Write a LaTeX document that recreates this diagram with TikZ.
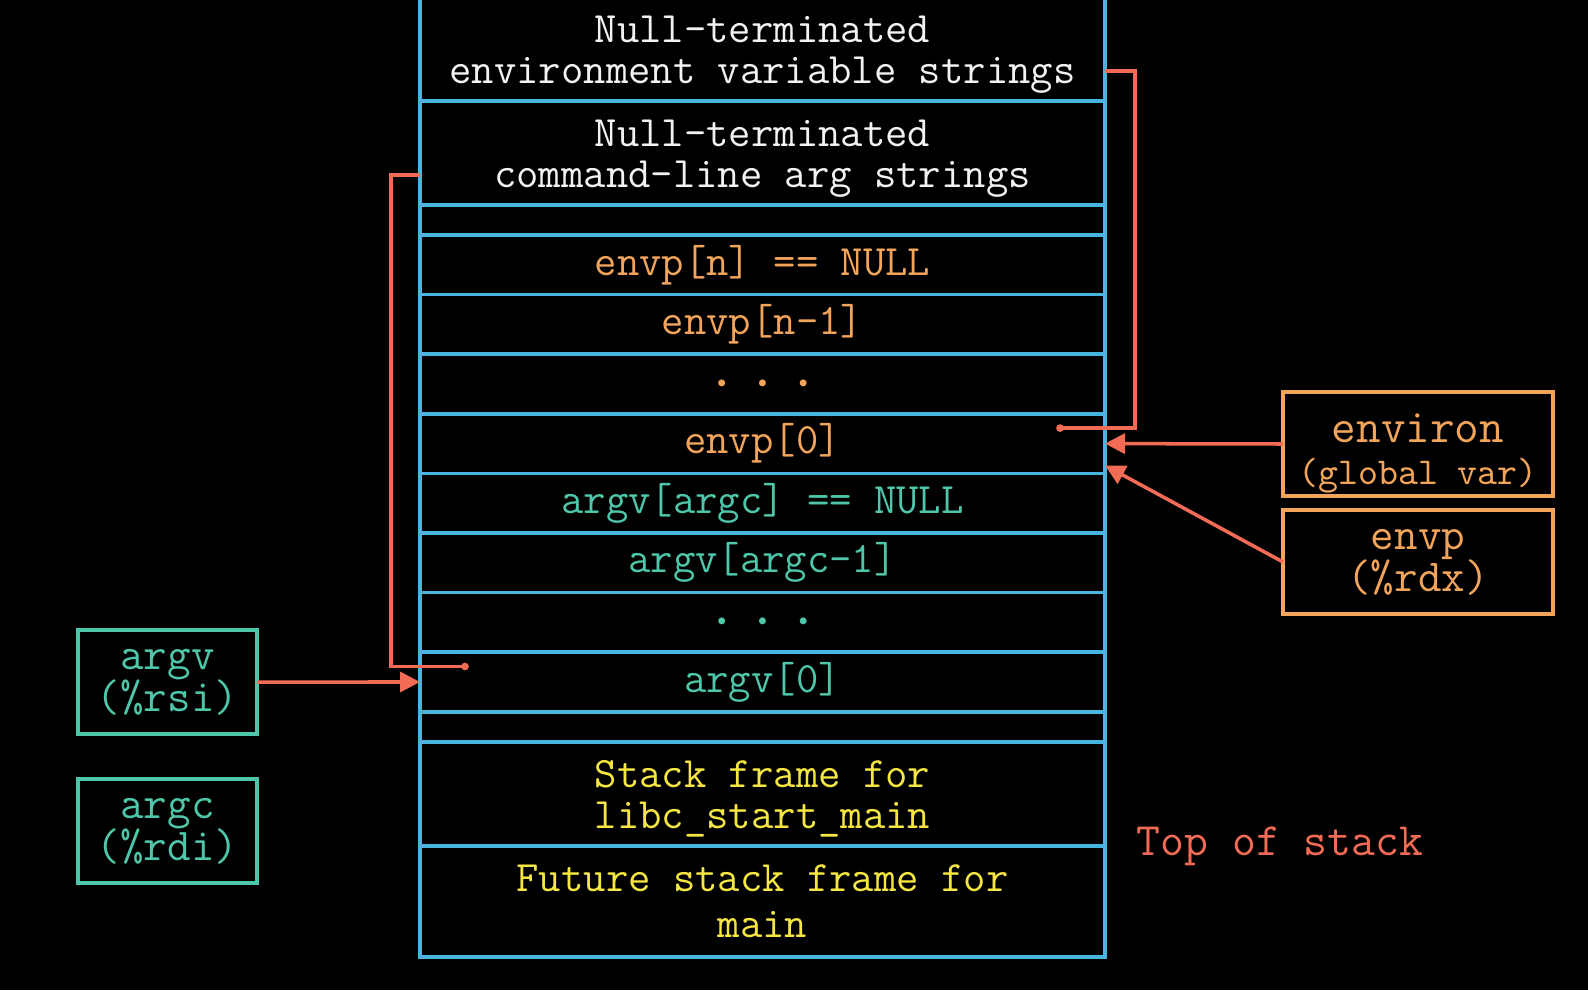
\documentclass[tikz,border=0pt]{standalone}
\usepackage{fontspec}
\usepackage{tikz}
\usetikzlibrary{positioning,arrows.meta}
\definecolor{stackblue}{HTML}{47B5DD}
\definecolor{envorange}{HTML}{F2A55A}
\definecolor{argteal}{HTML}{4EC6AA}
\definecolor{frameyellow}{HTML}{F5E642}
\definecolor{ptrred}{HTML}{F26B55}
\definecolor{txtwhite}{HTML}{F2F2F2}
\newcommand{\stackdots}{{\rmfamily\fontsize{6.6}{6.6}\selectfont\textbullet\hspace{5.8pt}\textbullet\hspace{5.8pt}\textbullet}}
\newcommand{\topstrut}{\rule{0pt}{10.6pt}}

\begin{document}
\begin{tikzpicture}[
  every node/.style={font=\ttfamily\fontsize{12.35}{11.6}\selectfont},
  cell/.style={draw=stackblue,line width=1pt,minimum width=6.85cm,minimum height=#1,
    inner sep=0pt,outer sep=0pt,align=center},
  cell/.default=0.596cm,
  regbox/.style={line width=0.9pt,minimum width=2.70cm,minimum height=1.04cm,inner sep=0pt,
    outer sep=0pt,align=center,font=\ttfamily\fontsize{13}{12}\selectfont},
  ptr/.style={draw=ptrred,line width=1pt},
  arr/.style={ptrred,line width=1pt,-{Triangle[length=2mm,width=2mm]}}]
  \useasboundingbox (0,0) rectangle (15.88,-9.90);
  \fill[black] (0,0) rectangle (15.88,-9.90);
  % the stack
  \node[cell=1.04cm,text=txtwhite] (envstr) at (7.625,-0.49) {\topstrut Null-terminated\\environment variable strings};
  \node[cell=1.04cm,text=txtwhite,below=0pt of envstr] (argstr) {\topstrut Null-terminated\\command-line arg strings};
  \node[cell=0.30cm,below=0pt of argstr] (gapa) {};
  \node[cell,text=envorange,below=0pt of gapa] (envnull) {envp[n] == NULL};
  \node[cell,text=envorange,below=0pt of envnull] (envlast) {envp[n-1]};
  \node[cell,text=envorange,below=0pt of envlast] (envdots) {\stackdots};
  \node[cell,text=envorange,below=0pt of envdots] (envzero) {envp[0]};
  \node[cell,text=argteal,below=0pt of envzero] (argnull) {argv[argc] == NULL};
  \node[cell,text=argteal,below=0pt of argnull] (arglast) {argv[argc-1]};
  \node[cell,text=argteal,below=0pt of arglast] (argdots) {\stackdots};
  \node[cell,text=argteal,below=0pt of argdots] (argzero) {argv[0]};
  \node[cell=0.30cm,below=0pt of argzero] (gapb) {};
  \node[cell=1.04cm,text=frameyellow,below=0pt of gapb] (libcframe) {\topstrut Stack frame for\\libc\_start\_main};
  \node[cell=1.11cm,text=frameyellow,below=0pt of libcframe] (mainframe) {Future stack frame for\\[1.4pt]main};
  % registers and globals
  \node[regbox,draw=envorange,text=envorange] (environ) at (14.18,-4.44) {\rule{0pt}{13.4pt}{\fontsize{13.6}{12}\selectfont environ}\\{\fontsize{10.8}{12}\selectfont (global var)}};
  \node[regbox,draw=envorange,text=envorange,below=0.14 of environ] (envreg) {envp\\(\%rdx)};
  \node[regbox,draw=argteal,text=argteal,minimum width=1.79cm] (argvreg) at (1.675,-6.82) {argv\\(\%rsi)};
  \node[regbox,draw=argteal,text=argteal,minimum width=1.79cm,below=0.45 of argvreg] (argcreg) {argc\\(\%rdi)};
  \node[text=ptrred,font=\ttfamily\fontsize{13.2}{14}\selectfont] (topnote) at (12.80,-8.46) {Top of stack};
  % pointers
  \coordinate (envdot) at ([shift={(-0.45,0.155)}]envzero.east);
  \coordinate (argdot) at ([shift={(0.45,0.155)}]argzero.west);
  \draw[ptr] ([yshift=-2.2mm]envstr.east) -- ++(0.30,0) |- (envdot);
  \fill[ptrred] (envdot) circle (1.1pt);
  \draw[ptr] ([yshift=-2.2mm]argstr.west) -- ++(-0.29,0) |- (argdot);
  \fill[ptrred] (argdot) circle (1.1pt);
  \draw[arr] (environ.west) -- (envzero.east);
  \draw[arr] (envreg.west) -- ([yshift=0.8mm]argnull.north east);
  \draw[arr] (argvreg.east) -- (argzero.west);
\end{tikzpicture}
\end{document}
